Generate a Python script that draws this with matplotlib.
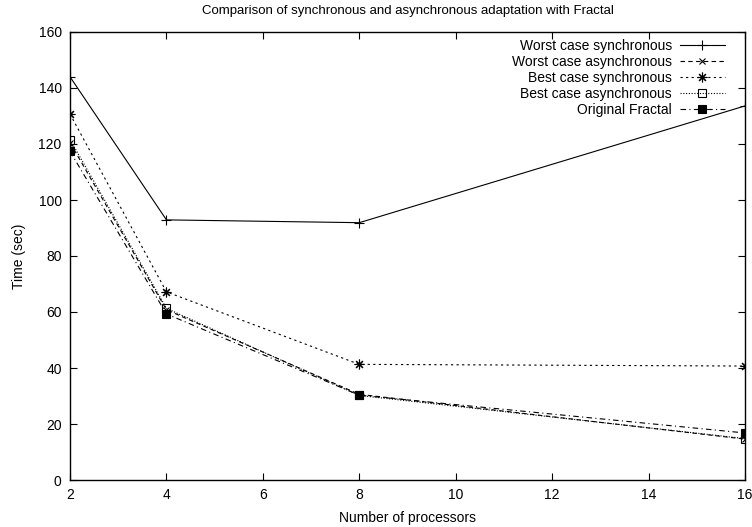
import matplotlib
matplotlib.use("Agg")
import matplotlib.pyplot as plt

plt.rcParams['font.family'] = ['Liberation Sans', 'DejaVu Sans']
plt.rcParams['font.size'] = 10

# Data
processors = [2, 4, 8, 16]
worst_sync = [144.0, 92.9, 91.9, 133.6]
worst_async = [120.5, 60.8, 30.6, 14.6]
best_sync = [130.7, 67.2, 41.3, 40.7]
best_async = [121.6, 61.3, 30.2, 14.8]
original_fractal = [117.4, 59.3, 30.3, 16.8]

labels = ['Worst case synchronous', 'Worst case asynchronous',
          'Best case synchronous', 'Best case asynchronous', 'Original Fractal']

fig = plt.figure(figsize=(7.52, 5.27), dpi=100)
ax = fig.add_axes([70 / 752, 1 - 480 / 527, 675 / 752, 448 / 527])

lw = 0.8
ax.plot(processors, worst_sync, color='black', lw=lw, ls='-',
        marker='+', ms=7, mew=lw, label=labels[0])
ax.plot(processors, worst_async, color='black', lw=lw, ls=(0, (4, 3)),
        marker='x', ms=5, mew=lw, label=labels[1])
ax.plot(processors, best_sync, color='black', lw=lw, ls=(0, (2, 3)),
        marker=(8, 2, 0), ms=7, mew=lw, label=labels[2])
ax.plot(processors, best_async, color='black', lw=lw, ls=(0, (1, 1.5)),
        marker='s', ms=6, mew=lw, mfc='none', label=labels[3])
ax.plot(processors, original_fractal, color='black', lw=lw, ls=(0, (5, 3, 1, 3)),
        marker='s', ms=6, mew=lw, mfc='black', label=labels[4])

ax.set_xlim(2, 16)
ax.set_ylim(0, 160)
ax.set_xticks(range(2, 17, 2))
ax.set_yticks(range(0, 161, 20))
ax.tick_params(direction='in', length=5, width=0.8, top=True, right=True, pad=6)
for sp in ax.spines.values():
    sp.set_linewidth(1.0)

ax.set_xlabel('Number of processors', labelpad=6)
ax.set_ylabel('Time (sec)', labelpad=9)
ax.set_title('Comparison of synchronous and asynchronous adaptation with Fractal',
             fontsize=9.5, pad=13)

# legend: text right-aligned, line sample to the right (gnuplot key style)
ax.legend(loc='upper right', bbox_to_anchor=(0.978, 0.997), frameon=False,
          markerfirst=False, numpoints=1, handlelength=3.2, handletextpad=0.6,
          labelspacing=0.15, borderaxespad=0.0, fontsize=10)

fig.savefig('out.png', dpi=100)
